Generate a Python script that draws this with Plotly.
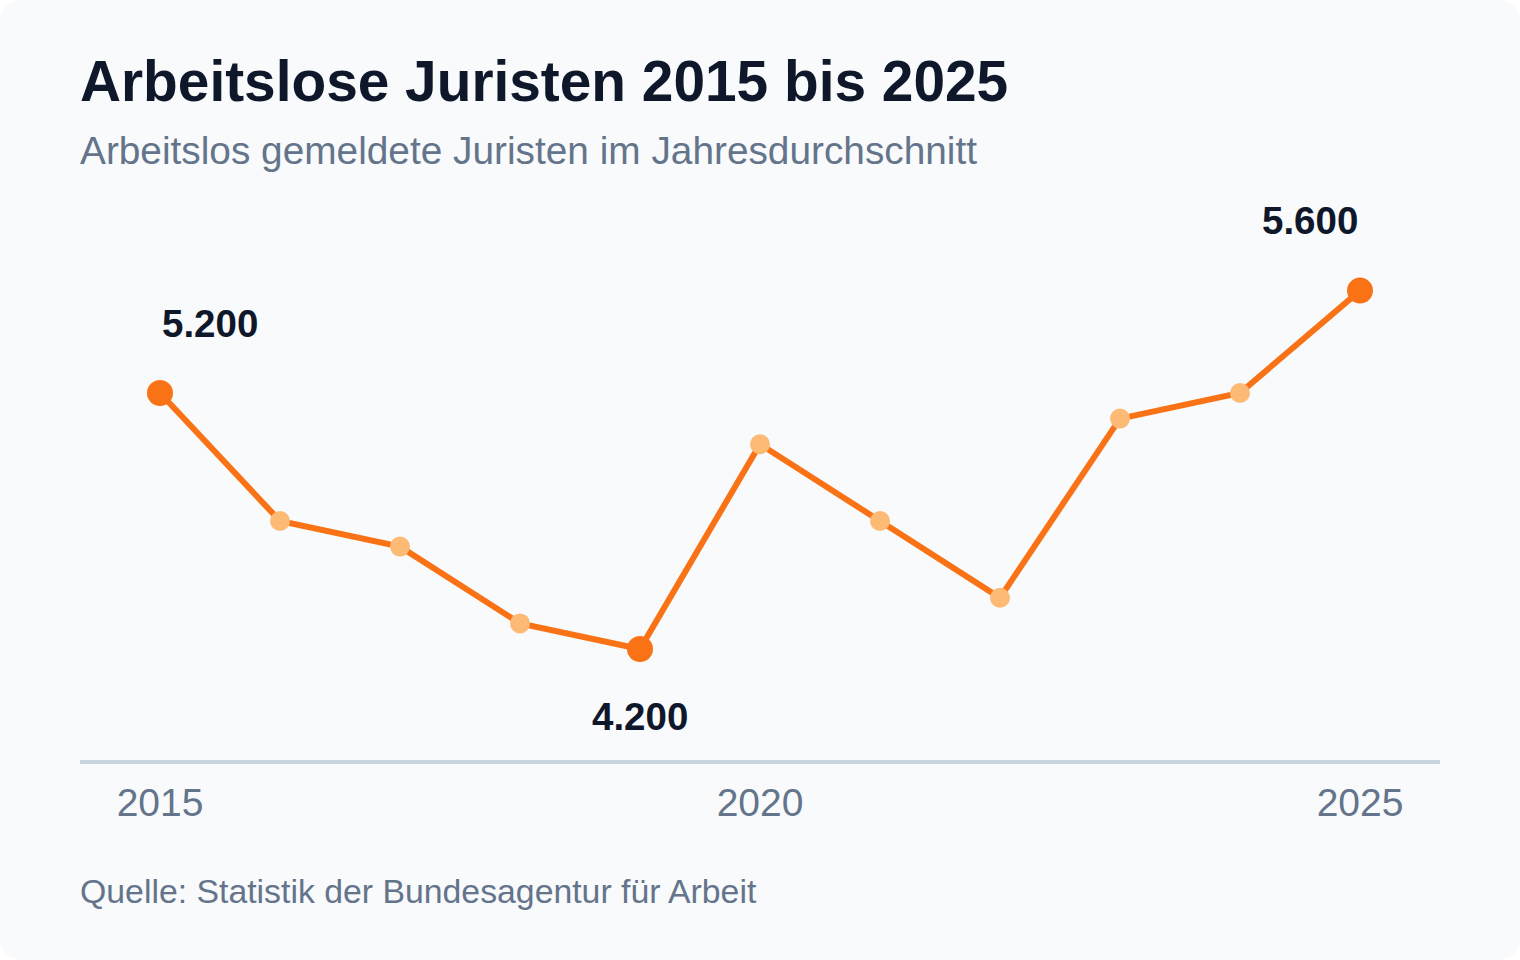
import plotly.graph_objects as go

# ---- data ----
years = [2015, 2016, 2017, 2018, 2019, 2020, 2021, 2022, 2023, 2024, 2025]
values = [5200, 4700, 4600, 4300, 4200, 5000, 4700, 4400, 5100, 5200, 5600]
x_ticks = [2015, 2020, 2025]
highlight_years = [2015, 2019, 2025]

title = "Arbeitslose Juristen 2015 bis 2025"
subtitle = "Arbeitslos gemeldete Juristen im Jahresdurchschnitt"
source = "Quelle: Statistik der Bundesagentur für Arbeit"

# ---- styling ----
W, H = 1520, 960
ML, MR, MT, MB = 80, 80, 200, 200
PW, PH = W - ML - MR, H - MT - MB
FONT = "Liberation Sans, Arial, Helvetica, sans-serif"
ORANGE = "#f97316"
LIGHT_ORANGE = "#fdba74"
DARK = "#0f172a"
GRAY = "#64748b"
AXIS = "#cbd5e1"
BG = "#f8fafc"


def px_x(px):
    return (px - ML) / PW


def px_y(py):
    return (H - MB - py) / PH


# rounded background card
r = 24
x0, y0, x1, y1 = 0, 0, W, H
path = (
    f"M {px_x(x0 + r)},{px_y(y0)} L {px_x(x1 - r)},{px_y(y0)} "
    f"Q {px_x(x1)},{px_y(y0)} {px_x(x1)},{px_y(y0 + r)} "
    f"L {px_x(x1)},{px_y(y1 - r)} "
    f"Q {px_x(x1)},{px_y(y1)} {px_x(x1 - r)},{px_y(y1)} "
    f"L {px_x(x0 + r)},{px_y(y1)} "
    f"Q {px_x(x0)},{px_y(y1)} {px_x(x0)},{px_y(y1 - r)} "
    f"L {px_x(x0)},{px_y(y0 + r)} "
    f"Q {px_x(x0)},{px_y(y0)} {px_x(x0 + r)},{px_y(y0)} Z"
)

marker_colors = [ORANGE if y in highlight_years else LIGHT_ORANGE for y in years]
marker_sizes = [26 if y in highlight_years else 20 for y in years]

fig = go.Figure()
fig.add_trace(
    go.Scatter(
        x=years,
        y=values,
        mode="lines+markers",
        line=dict(color=ORANGE, width=6),
        marker=dict(color=marker_colors, size=marker_sizes, opacity=1,
                    line=dict(width=0)),
        hoverinfo="x+y",
        showlegend=False,
    )
)

annotations = []
for yr, v in zip(years, values):
    if yr not in highlight_years:
        continue
    label = f"{v:,}".replace(",", ".")
    if yr == years[0]:
        xa, ys = "left", 70
    elif yr == years[-1]:
        xa, ys = "right", 70
    else:
        xa, ys = "center", -67
    annotations.append(
        dict(
            x=yr, y=v, xref="x", yref="y", text=f"<b>{label}</b>",
            showarrow=False, xanchor=xa, yanchor="middle", yshift=ys,
            font=dict(family=FONT, size=38.5, color=DARK),
        )
    )

annotations += [
    dict(x=px_x(78), y=px_y(81), xref="paper", yref="paper", text=f"<b>{title}</b>",
         showarrow=False, xanchor="left", yanchor="middle",
         font=dict(family=FONT, size=56.8, color=DARK)),
    dict(x=px_x(78), y=px_y(150), xref="paper", yref="paper", text=subtitle,
         showarrow=False, xanchor="left", yanchor="middle",
         font=dict(family=FONT, size=38.8, color=GRAY)),
    dict(x=px_x(78), y=px_y(891), xref="paper", yref="paper", text=source,
         showarrow=False, xanchor="left", yanchor="middle",
         font=dict(family=FONT, size=33.8, color=GRAY)),
]

fig.update_layout(
    width=W,
    height=H,
    margin=dict(l=ML, r=MR, t=MT, b=MB, pad=0),
    paper_bgcolor="white",
    plot_bgcolor="rgba(0,0,0,0)",
    shapes=[dict(type="path", path=path, xref="paper", yref="paper",
                 fillcolor=BG, line=dict(width=0), layer="below")],
    annotations=annotations,
    xaxis=dict(
        range=[2015 - 80 / 120, 2025 + 80 / 120],
        tickvals=x_ticks,
        ticktext=[str(t) for t in x_ticks],
        showgrid=False,
        zeroline=False,
        showline=True,
        linecolor=AXIS,
        linewidth=4,
        ticks="",
        ticklabelstandoff=5,
        tickfont=dict(family=FONT, size=39, color=GRAY),
        fixedrange=True,
    ),
    yaxis=dict(
        range=[3766.4, 5953.9],
        visible=False,
        fixedrange=True,
    ),
)

fig.write_html(
    "out.html",
    config={"displayModeBar": False},
    post_script="document.body.style.margin='0';document.body.style.overflow='hidden';",
)
